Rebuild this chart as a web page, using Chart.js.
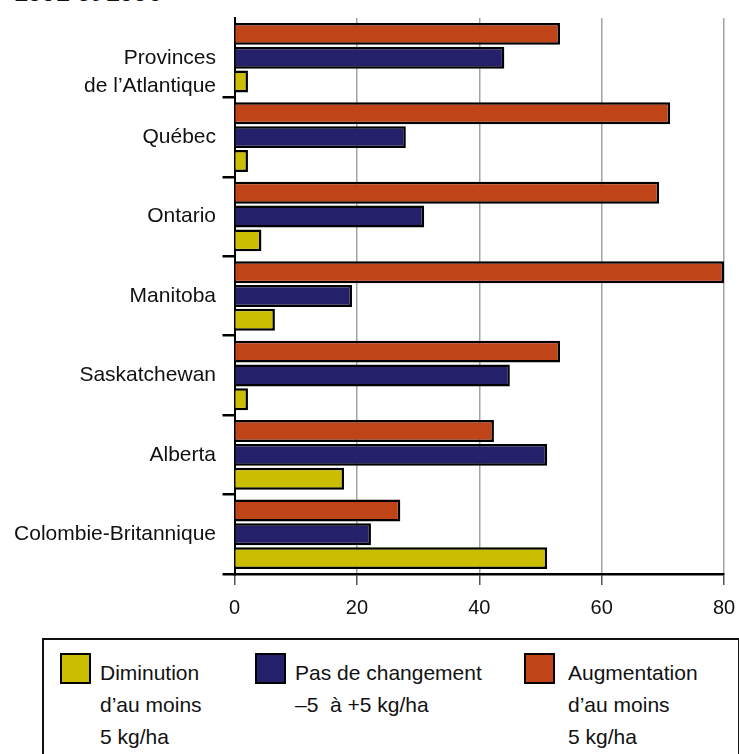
<!DOCTYPE html>
<html lang="fr">
<head>
<meta charset="utf-8">
<title>Variation de l'azote résiduel, 1991 et 1996</title>
<script src="https://cdn.jsdelivr.net/npm/chart.js@4.4.1/dist/chart.umd.min.js"></script>
<style>
  html, body { margin: 0; padding: 0; background: #fff; }
  body { width: 739px; height: 754px; position: relative; overflow: hidden;
         font-family: "Liberation Sans", Arial, sans-serif; color: #111; }
  #title { position: absolute; left: 14px; top: -20px; font-size: 25px; font-weight: bold;
           line-height: 25px; white-space: nowrap; color: #111; }
  #wrap { position: absolute; left: 0; top: 0; width: 739px; height: 620px; }
  #legend { position: absolute; left: 42px; top: 638px; width: 694px; height: 130px;
            border: 2px solid #111; box-sizing: content-box; }
  .swatch { position: absolute; top: 13px; width: 27px; height: 27px; border: 2px solid #000; }
  .text { position: absolute; top: 17px; font-size: 21px; line-height: 32px; white-space: nowrap; }
</style>
</head>
<body>
<div id="title">1991 et 1996</div>
<div id="wrap"><canvas id="chart" width="739" height="620"></canvas></div>
<div id="legend"></div>
<script>
// Provinces, top to bottom
const categories = [
  ['', 'Provinces', 'de l’Atlantique'],
  'Québec',
  'Ontario',
  'Manitoba',
  'Saskatchewan',
  'Alberta',
  'Colombie-Britannique'
];

// Share of farmland (%) by change in residual nitrogen
const augmentation = [53.2, 71.2, 69.4, 80, 53.2, 42.4, 27.1];
const pasDeChangement = [44.1, 28.0, 31.0, 19.2, 45.0, 51.1, 22.3];
const diminution = [2.2, 2.2, 4.4, 6.6, 2.2, 17.9, 51.1];

const xTicks = [0, 20, 40, 60, 80];

const legendItems = [
  { color: '#CBBE00', lines: ['Diminution', 'd’au moins', '5 kg/ha'], box: 16, text: 56 },
  { color: '#24206A', lines: ['Pas de changement', '–5\u00a0 à +5 kg/ha'], box: 211, text: 251 },
  { color: '#BF4518', lines: ['Augmentation', 'd’au moins', '5 kg/ha'], box: 480, text: 524 }
];

const FONT = '"Liberation Sans", Arial, sans-serif';

new Chart(document.getElementById('chart'), {
  type: 'bar',
  data: {
    labels: categories,
    datasets: [
      { label: 'Augmentation d’au moins 5 kg/ha', data: augmentation, backgroundColor: '#BF4518' },
      { label: 'Pas de changement –5 à +5 kg/ha', data: pasDeChangement, backgroundColor: '#24206A' },
      { label: 'Diminution d’au moins 5 kg/ha', data: diminution, backgroundColor: '#CBBE00' }
    ]
  },
  options: {
    indexAxis: 'y',
    responsive: false,
    devicePixelRatio: 1,
    animation: false,
    layout: { padding: { top: 18, right: 15, left: 0, bottom: 0 } },
    datasets: {
      bar: {
        borderColor: '#000',
        borderWidth: 2.5,
        categoryPercentage: 0.9,
        barPercentage: 0.92
      }
    },
    plugins: {
      legend: { display: false },
      tooltip: { enabled: false },
      title: { display: false }
    },
    scales: {
      y: {
        type: 'category',
        position: 'left',
        afterFit: (s) => {
          s.width = 234.5;
          s.paddingTop = 0;
          s.paddingBottom = 0;
        },
        grid: {
          offset: true,
          drawOnChartArea: false,
          drawTicks: true,
          tickLength: 12,
          lineWidth: 2.5,
          color: (ctx) => (ctx.index === 0 ? 'rgba(0,0,0,0)' : '#000')
        },
        border: { display: true, color: '#000', width: 2 },
        ticks: {
          autoSkip: false,
          padding: 6.5,
          color: '#111',
          font: { family: FONT, size: 21, lineHeight: 1.35 }
        }
      },
      x: {
        min: 0,
        max: 80,
        afterFit: (s) => {
          s.height = 46;
          s.paddingLeft = 0;
          s.paddingRight = 0;
        },
        afterBuildTicks: (s) => { s.ticks = xTicks.map((v) => ({ value: v })); },
        grid: {
          lineWidth: 1.5,
          color: (ctx) => (ctx.tick && ctx.tick.value === 0 ? 'rgba(0,0,0,0)' : '#a3a3a3'),
          tickColor: '#555',
          tickLength: 11
        },
        border: { display: true, color: '#000', width: 2.5 },
        ticks: {
          autoSkip: false,
          padding: 11,
          color: '#111',
          font: { family: FONT, size: 20 }
        }
      }
    }
  }
});

// Legend below the plot, one swatch and a few text lines per series
const legend = document.getElementById('legend');
legendItems.forEach((it) => {
  const sw = document.createElement('div');
  sw.className = 'swatch';
  sw.style.left = it.box + 'px';
  sw.style.background = it.color;
  legend.appendChild(sw);
  const tx = document.createElement('div');
  tx.className = 'text';
  tx.style.left = it.text + 'px';
  tx.innerHTML = it.lines.join('<br>');
  legend.appendChild(tx);
});
</script>
</body>
</html>
